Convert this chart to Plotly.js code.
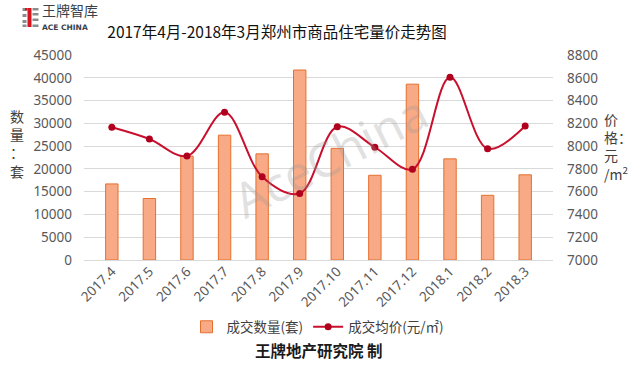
<!DOCTYPE html>
<html>
<head>
<meta charset="utf-8">
<script src="https://cdn.plot.ly/plotly-3.0.1.min.js"></script>
<style>html,body{margin:0;padding:0;background:#fff;}#chart{width:640px;height:365px;}</style>
</head>
<body>
<div id="chart"></div>
<script>
const months = ["2017.4","2017.5","2017.6","2017.7","2017.8","2017.9","2017.10","2017.11","2017.12","2018.1","2018.2","2018.3"];
const volume = [16700, 13500, 22800, 27400, 23300, 41700, 24500, 18600, 38600, 22200, 14200, 18700];
const price = [8165, 8062, 7913, 8297, 7731, 7585, 8170, 7990, 7796, 8604, 7977, 8176];
const volumeName = "成交数量(套)";
const priceName = "成交均价(元/㎡)";

const L = 84, R = 553, T = 55, B = 260;
const px = x => (x - L) / (R - L);
const py = y => (B - y) / (B - T);

const cjk = '"Noto Sans CJK SC", "Noto Sans", sans-serif';
const num = '"Noto Sans", "DejaVu Sans", sans-serif';

const traces = [
  {
    type: "bar", x: months, y: volume, name: volumeName, yaxis: "y",
    width: 0.33,
    marker: {color: "#F8AA86", line: {color: "#E5702E", width: 1}},
  },
  {
    type: "scatter", mode: "lines+markers", x: months, y: price, name: priceName, yaxis: "y2",
    line: {color: "#C8102E", width: 2, shape: "spline", smoothing: 1},
    marker: {color: "#B0001E", size: 7},
  }
];

function rect(x0, y0, x1, y1, c) {
  return {type: "rect", xref: "paper", yref: "paper", x0: px(x0), x1: px(x1), y0: py(y0), y1: py(y1),
    fillcolor: c, line: {width: 0}, layer: "above"};
}
const shapes = [
  rect(22.5, 8, 26.5, 11, "#8c8c8c"),
  rect(22.5, 14, 26.5, 17, "#8c8c8c"),
  rect(22.5, 20, 26.5, 23, "#8c8c8c"),
  rect(22.5, 24.5, 26.5, 27, "#8c8c8c"),
  rect(27.5, 8, 31.5, 27, "#D7131E"),
  rect(25, 8, 27.5, 10.5, "#D7131E"),
  rect(32.5, 8, 38.5, 10.5, "#8c8c8c"),
  rect(32.5, 13, 38.5, 15.5, "#8c8c8c"),
  rect(32.5, 18.5, 38.5, 21, "#8c8c8c"),
  rect(32.5, 24.5, 38.5, 27, "#8c8c8c"),
];

const annotations = [
  {text: "王牌智库", xref: "paper", yref: "paper", x: px(41), y: py(21), xanchor: "left", yanchor: "bottom",
   showarrow: false, font: {family: cjk, size: 14, color: "#3a3f4a"}, borderpad: 0},
  {text: "<b>ACE CHINA</b>", xref: "paper", yref: "paper", x: px(41), y: py(21.5), xanchor: "left", yanchor: "top",
   showarrow: false, font: {family: '"DejaVu Sans", sans-serif', size: 7.5, color: "#3a3f4a"}, borderpad: 0},
  {text: "数<br>量<br>：<br>套", xref: "paper", yref: "paper", x: px(17), y: py(143), xanchor: "center", yanchor: "middle",
   showarrow: false, font: {family: cjk, size: 14, color: "#404040"}, align: "center"},
  {text: "价<br>格：<br>元<br>/m<sup>2</sup>", xref: "paper", yref: "paper", x: px(602), y: py(146), xanchor: "left", yanchor: "middle",
   showarrow: false, font: {family: cjk, size: 14, color: "#404040"}, align: "left"},
  {text: "AceChina", xref: "paper", yref: "paper", x: px(330), y: py(155), xanchor: "center", yanchor: "middle",
   showarrow: false, textangle: -27, font: {family: num, size: 48, color: "rgba(150,150,150,0.28)"}},
  {text: "<b>王牌地产研究院 制</b>", xref: "paper", yref: "paper", x: px(319), y: py(350), xanchor: "center", yanchor: "middle",
   showarrow: false, font: {family: cjk, size: 15.5, color: "#1a1a1a"}},
];

const layout = {
  width: 640, height: 365,
  margin: {l: L, r: 640 - R, t: T, b: 365 - B, pad: 0},
  paper_bgcolor: "#fff", plot_bgcolor: "#fff",
  title: {text: "2017年4月-2018年3月郑州市商品住宅量价走势图", xref: "container", yref: "container",
    x: 277/640, xanchor: "center", y: 1 - 33/365, yanchor: "middle",
    font: {family: cjk, size: 15.5, color: "#111"}},
  xaxis: {type: "category", tickangle: -45, tickfont: {family: num, size: 13.5, color: "#595959"}, showgrid: false, zeroline: false,
    showline: false, ticks: "", automargin: false},
  yaxis: {range: [0, 45000], dtick: 5000, tickformat: "d", tickfont: {family: num, size: 13.5, color: "#595959"}, gridcolor: "#d9d9d9",
    zeroline: true, zerolinecolor: "#d9d9d9", showline: false, ticks: "", ticklabelstandoff: 11, automargin: false},
  yaxis2: {range: [7000, 8800], dtick: 200, tickformat: "d", overlaying: "y", side: "right", tickfont: {family: num, size: 13.5, color: "#595959"},
    showgrid: false, zeroline: false, showline: false, ticks: "", ticklabelstandoff: 13, automargin: false},
  legend: {orientation: "h", x: px(318), xanchor: "center", y: py(327), yanchor: "middle",
    font: {family: cjk, size: 13.5, color: "#404040"}, itemwidth: 30, traceorder: "normal"},
  showlegend: true,
  bargap: 0.6,
  shapes: shapes,
  annotations: annotations,
};

Plotly.newPlot("chart", traces, layout, {displayModeBar: false, staticPlot: true});
</script>
</body>
</html>
